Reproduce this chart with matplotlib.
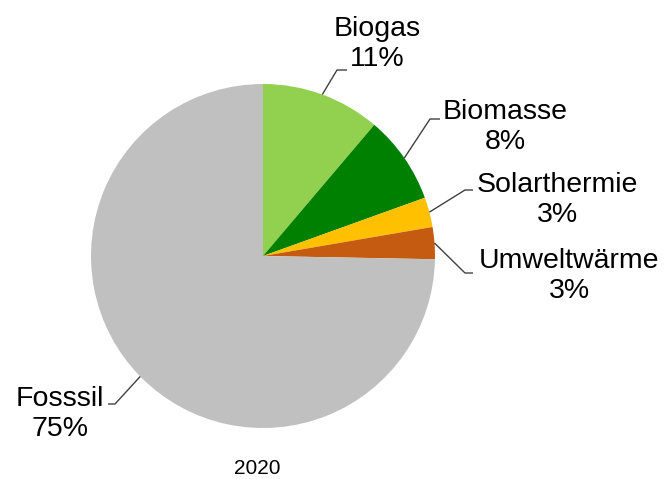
import numpy as np
import matplotlib
matplotlib.use("Agg")
import matplotlib.pyplot as plt

plt.rcParams["font.family"] = ["Liberation Sans", "DejaVu Sans"]

# shares (percent)
labels = ["Biogas", "Biomasse", "Solarthermie", "Umweltwärme", "Fosssil"]
values = [11.2, 8.3, 2.8, 3.0, 74.7]
colors = ["#92D050", "#008000", "#FFC000", "#C55A11", "#C0C0C0"]
year = "2020"

W, H = 667, 479
CX, CY, R = 263, 256, 172  # pie centre / radius in pixels


def px(x, y):
    # pixel position -> pie data coordinates (radius = 1)
    return (x - CX) / R, (CY - y) / R


# label centre and elbow of the leader line, in pixels
label_pos = [(377, 44), (505, 127), (557, 200), (569, 276), (60, 414)]
elbow_pos = [((337, 70), (347, 70)), ((430, 119), (440, 119)),
             ((465, 190), (473, 190)), ((465, 273), (473, 273)),
             ((115, 404), (108, 404))]

fig = plt.figure(figsize=(W / 100, H / 100), dpi=100)
ax = fig.add_axes([(CX - R) / W, (H - CY - R) / H, 2 * R / W, 2 * R / H])
wedges, _ = ax.pie(values, colors=colors, startangle=90, counterclock=False,
                   radius=1, wedgeprops=dict(linewidth=0))
ax.set_xlim(-1, 1)
ax.set_ylim(-1, 1)
ax.set_aspect("auto")
ax.axis("off")

for w, lab, val, lp, (e1, e2) in zip(wedges, labels, values, label_pos, elbow_pos):
    mid = np.deg2rad((w.theta1 + w.theta2) / 2)
    sx, sy = np.cos(mid), np.sin(mid)
    x1, y1 = px(*e1)
    x2, y2 = px(*e2)
    ax.plot([sx, x1, x2], [sy, y1, y2], color="#404040", lw=1,
            clip_on=False, solid_capstyle="butt")
    tx, ty = px(*lp)
    ax.text(tx, ty, f"{lab}\n{round(val):.0f}%", ha="center", va="center",
            fontsize=20.5, linespacing=1.22, color="black")

fig.text(257 / W, 1 - 468 / H, year, ha="center", va="center", fontsize=15)

fig.savefig("out.png", dpi=100)
